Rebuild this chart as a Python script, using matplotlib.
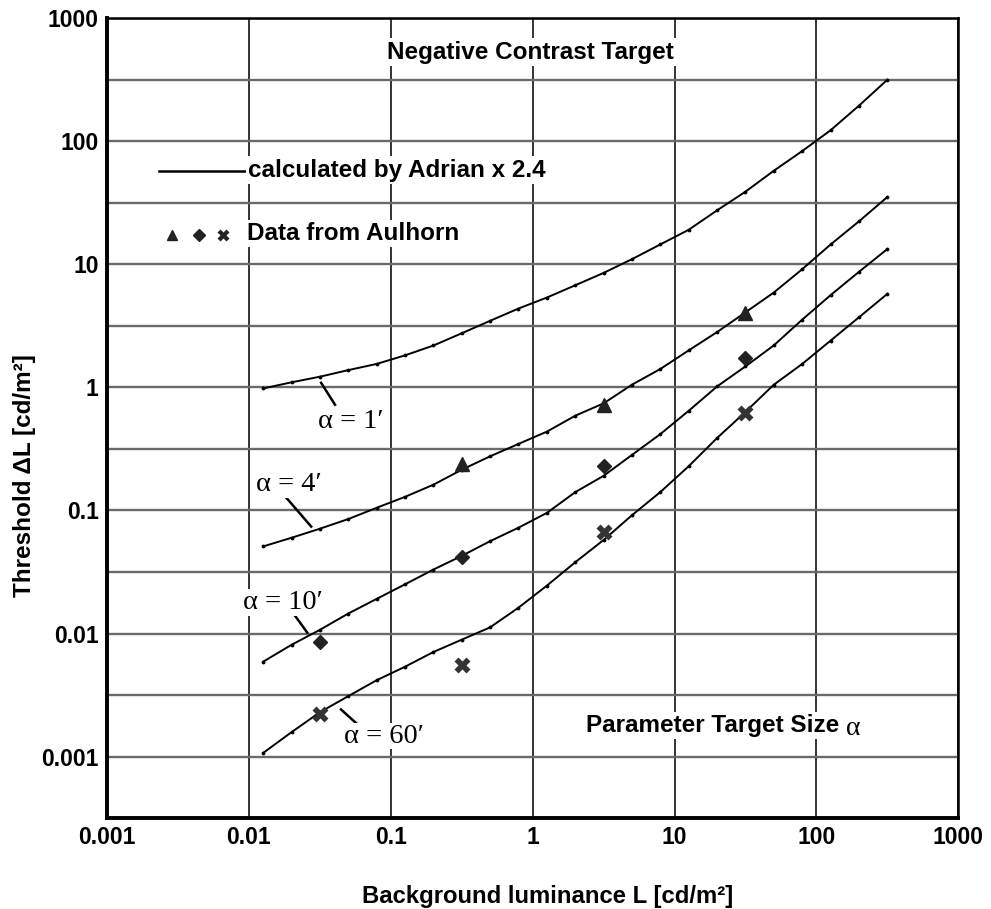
import matplotlib
matplotlib.use("Agg")
import matplotlib.pyplot as plt
from matplotlib.ticker import FixedLocator, NullLocator, NullFormatter

# background luminance (cd/m2) at which the calculated curves were read
lum = [0.0126, 0.02, 0.0316, 0.05, 0.0794, 0.126, 0.2, 0.316, 0.5, 0.794,
       1.26, 2.0, 3.16, 5.0, 7.94, 12.6, 20, 31.6, 50, 79.4, 126, 200, 316]

# calculated by Adrian x 2.4, one curve per target size
thr_1 = [0.98, 1.10, 1.22, 1.38, 1.55, 1.82, 2.19, 2.75, 3.47, 4.37, 5.37, 6.76,
         8.51, 11.0, 14.5, 19.1, 27.5, 38.9, 57.5, 83.2, 123, 195, 316]
thr_4 = [0.051, 0.060, 0.071, 0.085, 0.105, 0.129, 0.162, 0.214, 0.275, 0.347,
         0.437, 0.589, 0.741, 1.05, 1.41, 2.00, 2.82, 4.07, 5.89, 9.12, 14.5, 22.4, 35.2]
thr_10 = [0.0059, 0.0081, 0.0107, 0.0145, 0.0191, 0.0251, 0.0331, 0.0427, 0.0562,
          0.0724, 0.0955, 0.141, 0.191, 0.282, 0.417, 0.646, 1.02, 1.48, 2.19,
          3.55, 5.62, 8.71, 13.3]
thr_60 = [0.00107, 0.00158, 0.00229, 0.00309, 0.00417, 0.00537, 0.00708, 0.00891,
          0.0112, 0.0162, 0.0245, 0.0380, 0.0575, 0.0912, 0.141, 0.229, 0.389,
          0.631, 1.05, 1.55, 2.40, 3.72, 5.75]

# data from Aulhorn
tri_lum = [0.316, 3.16, 31.6]
tri_thr = [0.24, 0.72, 4.0]
dia_lum = [0.0316, 0.316, 3.16, 31.6]
dia_thr = [0.0085, 0.042, 0.23, 1.74]
crs_lum = [0.0316, 0.316, 3.16, 31.6]
crs_thr = [0.0022, 0.0055, 0.067, 0.62]

x_ticks = [0.001, 0.01, 0.1, 1, 10, 100, 1000]
x_labels = ["0.001", "0.01", "0.1", "1", "10", "100", "1000"]
y_ticks = [0.001, 0.01, 0.1, 1, 10, 100, 1000]
y_labels = ["0.001", "0.01", "0.1", "1", "10", "100", "1000"]
y_half = [10 ** (k + 0.5) for k in range(-4, 3)]

SANS = ["Liberation Sans", "DejaVu Sans"]
SERIF = ["Liberation Serif", "DejaVu Serif"]
FS = 17.5

fig = plt.figure(figsize=(9.91, 9.09), dpi=100)
ax = fig.add_axes([0.108, 0.100, 0.859, 0.880])
ax.set_xscale("log")
ax.set_yscale("log")
ax.set_xlim(1e-3, 1e3)
ax.set_ylim(10 ** -3.5, 1e3)

ax.xaxis.set_major_locator(FixedLocator(x_ticks))
ax.xaxis.set_minor_locator(NullLocator())
ax.set_xticklabels(x_labels)
ax.yaxis.set_major_locator(FixedLocator(y_ticks))
ax.yaxis.set_minor_locator(FixedLocator(y_half))
ax.yaxis.set_minor_formatter(NullFormatter())
ax.set_yticklabels(y_labels)
for lab in ax.get_xticklabels() + ax.get_yticklabels():
    lab.set_family(SANS)
    lab.set_fontweight("bold")
    lab.set_fontsize(16.5)
ax.tick_params(axis="both", which="both", length=0)
ax.tick_params(axis="x", pad=6)
ax.tick_params(axis="y", pad=6)

ax.set_axisbelow(True)
ax.grid(True, axis="x", which="major", color="#333333", lw=1.4)
ax.grid(True, axis="y", which="both", color="#6a6a6a", lw=1.7)

ax.spines["left"].set_linewidth(2.8)
ax.spines["bottom"].set_linewidth(2.8)
ax.spines["top"].set_linewidth(1.8)
ax.spines["right"].set_linewidth(1.8)

for thr in (thr_1, thr_4, thr_10, thr_60):
    ax.plot(lum, thr, color="black", lw=1.4, marker=".", ms=3.5, zorder=4)

ax.plot(tri_lum, tri_thr, ls="none", marker="^", ms=10, color="#222222", zorder=5)
ax.plot(dia_lum, dia_thr, ls="none", marker="D", ms=7.5, color="#222222", zorder=5)
ax.plot(crs_lum, crs_thr, ls="none", marker="X", ms=12, color="#333333",
        markeredgecolor="none", zorder=5)

txt_box = dict(facecolor="white", edgecolor="none", pad=1.5)

ax.text(0.4977, 0.9575, "Negative Contrast Target", transform=ax.transAxes,
        ha="center", va="center", family=SANS, fontweight="bold", fontsize=FS,
        bbox=txt_box, zorder=6)

ax.plot([0.061, 0.162], [0.809, 0.809], transform=ax.transAxes, color="black",
        lw=1.8, zorder=6)
ax.text(0.166, 0.810, "calculated by Adrian x 2.4", transform=ax.transAxes,
        ha="left", va="center", family=SANS, fontweight="bold", fontsize=FS,
        bbox=txt_box, zorder=6)

ax.plot([0.076], [0.729], transform=ax.transAxes, marker="^", ms=7.5,
        color="#222222", zorder=6)
ax.plot([0.108], [0.729], transform=ax.transAxes, marker="D", ms=6,
        color="#222222", zorder=6)
ax.plot([0.136], [0.729], transform=ax.transAxes, marker="X", ms=9,
        color="#222222", markeredgecolor="none", zorder=6)
ax.text(0.1645, 0.731, "Data from Aulhorn", transform=ax.transAxes,
        ha="left", va="center", family=SANS, fontweight="bold", fontsize=FS,
        bbox=txt_box, zorder=6)

ax.text(0.868, 0.116, "Parameter Target Size ", transform=ax.transAxes,
        ha="right", va="center", family=SANS, fontweight="bold", fontsize=FS,
        bbox=txt_box, zorder=6)
ax.text(0.868, 0.112, "α", transform=ax.transAxes, ha="left", va="center",
        family=SERIF, fontsize=20, bbox=txt_box, zorder=6)

# curve labels with leader lines (log10 positions)
labels = [
    ("α = 1′", (-1.281, -0.279), (-1.491, 0.037), (-1.393, -0.141)),
    ("α = 4′", (-1.716, -0.791), (-1.737, -0.896), (-1.561, -1.131)),
    ("α = 10′", (-1.758, -1.748), (-1.681, -1.846), (-1.589, -1.992)),
    ("α = 60′", (-1.049, -2.836), (-1.351, -2.617), (-1.211, -2.763)),
]
for text, (tx, ty), (ax0, ay0), (ax1, ay1) in labels:
    ax.plot([10 ** ax0, 10 ** ax1], [10 ** ay0, 10 ** ay1], color="black",
            lw=1.8, zorder=6)
    ax.text(10 ** tx, 10 ** ty, text, ha="center", va="center", family=SERIF,
            fontsize=20.5, bbox=dict(facecolor="white", edgecolor="none", pad=0.5),
            zorder=6)

fig.text(0.5525, 0.0143, "Background luminance L [cd/m²]", ha="center",
         va="center", family=SANS, fontweight="bold", fontsize=17.2)
fig.text(0.025, 0.477, "Threshold ΔL [cd/m²]", ha="center", va="center",
         rotation=90, family=SANS, fontweight="bold", fontsize=17.5)

fig.savefig("out.png", dpi=100, facecolor="white")
